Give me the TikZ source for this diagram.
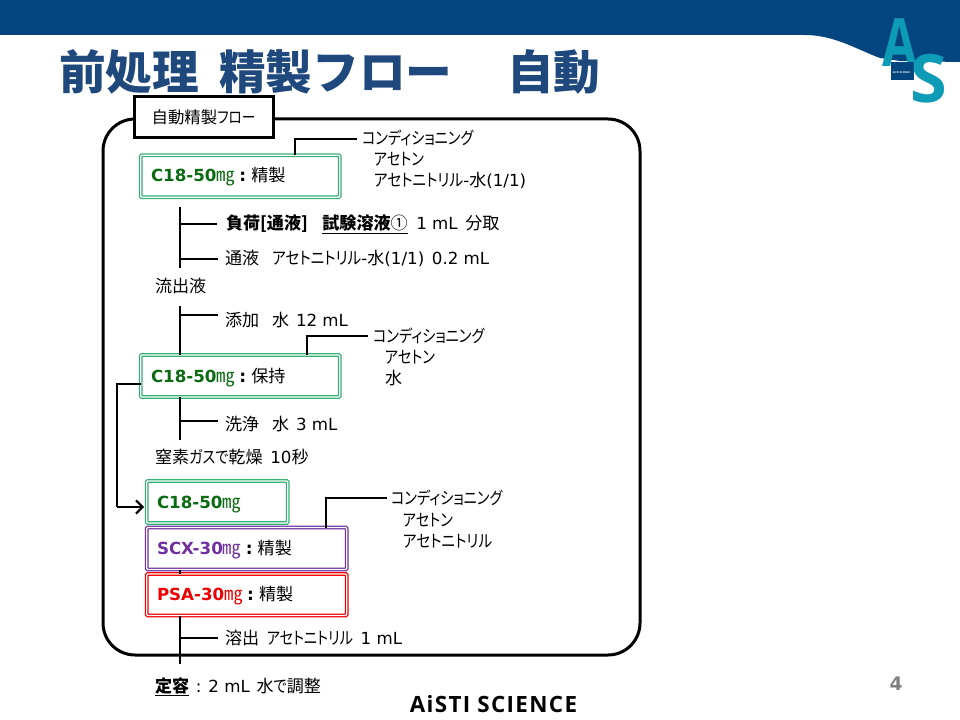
\documentclass[tikz,border=0pt]{standalone}
\usepackage{fontspec}
\usetikzlibrary{arrows.meta}
\setmainfont[RawFeature=+palt]{Noto Sans CJK JP}
\newfontfamily\lat{DejaVu Sans}
\newfontfamily\logof{Open Sans}
\newfontfamily\foot[LetterSpace=6]{Open Sans}
\newfontfamily\ttl{Noto Sans CJK JP}
\newfontfamily\kn[FakeStretch=0.83,RawFeature=+palt]{Noto Sans CJK JP}
\newfontfamily\knb[FakeStretch=0.86,RawFeature=+palt]{Noto Sans CJK JP}
\newcommand\chemf{\lat\bfseries\fontsize{12.5}{14}\selectfont}
\newcommand\nm[1]{{\lat\fontsize{12.5}{14}\selectfont #1}}
\newcommand\mgunit{{\fontsize{14}{14}\selectfont ㎎}}
\newcommand\colonb{\hspace{.25em}{\lat\bfseries:}\hspace{.3em}}
\definecolor{band}{HTML}{03467F}
\definecolor{titleblue}{HTML}{1F497D}
\definecolor{teal}{HTML}{0E9BB5}
\definecolor{cgreen}{HTML}{0B6B12}
\definecolor{gborder}{HTML}{34B074}
\definecolor{cpurple}{HTML}{7030A0}
\definecolor{cred}{HTML}{EE0000}
\tikzset{
 lbl/.style={anchor=west,inner sep=0pt,outer sep=0pt,font=\fontsize{12.8}{14}\selectfont,text height=12pt,text depth=3pt},
 ctr/.style={inner sep=0pt,outer sep=0pt},
 flowbox/.style={rectangle,anchor=north west,inner sep=0pt,outer sep=0pt,fill=white,draw=#1,line width=.9pt,double=white,double distance=1pt,rounded corners=.8pt},
 wire/.style={draw=black,line width=1.5pt},
 wirethin/.style={draw=black,line width=1.1pt}
}
\begin{document}
\begin{tikzpicture}[x=.75pt,y=-.75pt]
\useasboundingbox (0,0) rectangle (960,720);
% header
\fill[band] (0,0) -- (960,0) -- (960,62) -- (900,61) -- (880,58) .. controls (860,51) and (835,35) .. (805,35) -- (0,35) -- cycle;
% logo
\node[ctr,text=teal,xscale=.75,font=\logof\bfseries\fontsize{50}{50}\selectfont] (logoA) at (900,43) {A};
\fill[band] (891,62) rectangle (914,80);
\node[ctr,text=white,font=\logof\bfseries\fontsize{1.9}{3}\selectfont] (logoT) at (901.5,73) {AiSTI SCIENCE};
\node[ctr,text=teal,font=\logof\bfseries\fontsize{50}{50}\selectfont] (logoS) at (929,79) {S};
% title
\node[ctr,anchor=west,text=titleblue,font=\ttl\bfseries\fontsize{35}{40}\selectfont] (t1) at (59,72) {前処理};
\node[ctr,anchor=west,text=titleblue,font=\ttl\bfseries\fontsize{35}{40}\selectfont] (t2) at (219,72) {精製フロー};
\node[ctr,anchor=west,text=titleblue,font=\ttl\bfseries\fontsize{35}{40}\selectfont] (t3) at (507,72) {自動};
% frame
\draw[line width=2.25pt,rounded corners=24pt] (103,119) rectangle (640,655);
\node[rectangle,draw=black,line width=2.25pt,fill=white,minimum width=139*.75pt,minimum height=41*.75pt,inner sep=0pt,font=\fontsize{12.3}{14}\selectfont] (frametitle) at (203.5,117.5) {自動精製{\kn フロー}};
% boxes
\node[flowbox=gborder,minimum width=199*.75pt,minimum height=42*.75pt] (b1) at (140.7,155.2) {};
\node[flowbox=gborder,minimum width=199*.75pt,minimum height=42*.75pt] (b2) at (140.7,355) {};
\node[flowbox=gborder,minimum width=141*.75pt,minimum height=42*.75pt] (b3) at (146.7,481) {};
\node[flowbox=cpurple,minimum width=200*.75pt,minimum height=42*.75pt] (b4) at (146.7,527.5) {};
\node[flowbox=cred,minimum width=200*.75pt,minimum height=41.5*.75pt] (b5) at (146.7,574) {};
% box labels
\node[lbl] (l1) at (151,176) {{\chemf\textcolor{cgreen}{C18-50}}\textcolor{cgreen}{\mgunit}\colonb 精製};
\node[lbl] (l2) at (151,376) {{\chemf\textcolor{cgreen}{C18-50}}\textcolor{cgreen}{\mgunit}\colonb 保持};
\node[lbl] (l3) at (157,502) {{\chemf\textcolor{cgreen}{C18-50}}\textcolor{cgreen}{\mgunit}};
\node[lbl] (l4) at (157,548) {{\chemf\textcolor{cpurple}{SCX-30}}\textcolor{cpurple}{\mgunit}\colonb 精製};
\node[lbl] (l5) at (157,594) {{\chemf\textcolor{cred}{PSA-30}}\textcolor{cred}{\mgunit}\colonb 精製};
% step texts
\node[lbl] (s1) at (226,224) {\textbf{負荷[通液]}\hspace{.85em}\underline{\textbf{試験溶液}①}\hspace{.5em}\nm{1 mL}\hspace{.45em}分取};
\node[lbl] (s2) at (225,259) {通液\hspace{.76em}{\knb アセトニトリル}\nm{-}水\nm{(1/1)}\hspace{.45em}\nm{0.2 mL}};
\node[lbl] (s3) at (155,286) {流出液};
\node[lbl] (s4) at (225,320) {添加\hspace{.76em}水\hspace{.4em}\nm{12 mL}};
\node[lbl] (s5) at (225,424) {洗浄\hspace{.76em}水\hspace{.4em}\nm{3 mL}};
\node[lbl] (s6) at (155,457) {窒素{\kn ガスで}乾燥\hspace{.45em}\nm{10}秒};
\node[lbl] (s7) at (225,638) {溶出\hspace{.45em}{\kn アセトニトリル}\hspace{.45em}\nm{1 mL}};
\node[lbl] (s8) at (155,686) {\underline{\textbf{定容}}\hspace{.4em}\nm{:}\hspace{.4em}\nm{2 mL}\hspace{.4em}水{\kn で}調整};
% conditioning texts
\node[lbl] (c1) at (362,139) {\kn コンディショニング};
\node[lbl] (c1a) at (374,160) {\kn アセトン};
\node[lbl] (c1b) at (374,181) {{\knb アセトニトリル}\nm{-}水\nm{(1/1)}};
\node[lbl] (c2) at (373,336) {\kn コンディショニング};
\node[lbl] (c2a) at (385,357) {\kn アセトン};
\node[lbl] (c2b) at (385,378) {水};
\node[lbl] (c3) at (391,498) {\kn コンディショニング};
\node[lbl] (c3a) at (403,520) {\kn アセトン};
\node[lbl] (c3b) at (403,541) {\knb アセトニトリル};
% connectors
\coordinate (k1) at (295,138);
\coordinate (k2) at (307,337);
\coordinate (k3) at (326,500);
\draw[wire,shorten >=3.75pt] (b1.north -| k1) |- (c1.west);
\draw[wire,shorten >=3.75pt] (b2.north -| k2) |- (c2.west);
\draw[wire,shorten >=3pt] (b4.north -| k3) |- (c3.west);
\coordinate (v1a) at (180,207);
\coordinate (v1b) at (180,268);
\draw[wire] (v1a) -- (v1b);
\draw[wire,shorten >=6.5pt] (v1a |- s1.west) -- (s1.west);
\draw[wire,shorten >=5.5pt] (v1a |- s2.west) -- (s2.west);
\coordinate (v2a) at (180,306);
\coordinate (v2h) at (180,315);
\coordinate (v2e) at (218,315);
\draw[wire] (v2a) -- (b2.north -| v2a);
\draw[wire] (v2h) -- (v2e);
\coordinate (v3b) at (180,440);
\coordinate (v3h) at (180,421);
\coordinate (v3e) at (218,421);
\draw[wire] (b2.south -| v3b) -- (v3b);
\draw[wire] (v3h) -- (v3e);
\coordinate (v4) at (180,571);
\draw[wire] (b4.south -| v4) -- (b5.north -| v4);
\coordinate (v5b) at (180,664);
\draw[wire] (b5.south -| v5b) -- (v5b);
\draw[wire,shorten >=5.25pt] (v5b |- s7.west) -- (s7.west);
% bypass
\coordinate (p1) at (117,384);
\coordinate (p2) at (117,507);
\draw[wirethin] (b2.west |- p1) -- (p1) -- (p2);
\draw[wire,-{Straight Barb[length=5pt,width=10pt]},shorten >=2pt] (p2) -- (b3.west |- p2);
% footer
\node[ctr,font=\foot\bfseries\fontsize{16.8}{20}\selectfont] (brand) at (493.5,704) {AiSTI SCIENCE};
\node[ctr,text=gray,font=\lat\bfseries\fontsize{14}{16}\selectfont] (pg) at (896,684) {4};
\end{tikzpicture}
\end{document}
